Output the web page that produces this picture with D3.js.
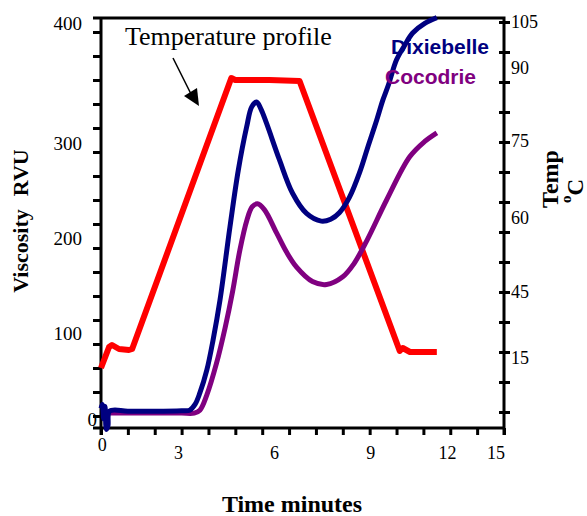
<!DOCTYPE html>
<html>
<head>
    <meta charset="utf-8" />
    <title>RVA viscosity profile</title>
    <style>
        body { margin: 0; background: #fff; }
        svg { display: block; }
    </style>
</head>
<body>
<script src="https://d3js.org/d3.v7.min.js"></script>
<script>
    // Dixiebelle pasting curve (minutes, RVU)
    var dixieTime = [0, 0.05, 0.1, 0.15, 0.2, 0.26, 0.32, 1, 2, 3, 3.3, 3.5, 3.68, 3.94, 4.17, 4.43, 4.8, 5.11, 5.42, 5.61, 5.79, 5.95, 6.16, 6.64, 7.13, 7.65, 8.2, 8.55, 8.88, 9.25, 9.63, 9.93, 10.26, 10.49, 10.7, 11.0, 11.3, 11.6, 12.05, 12.5];
    var dixieVisc = [8, 12, -3, 10, -14, -10, 5, 5, 5, 5.5, 6, 12, 24, 48, 79, 121, 197, 256, 301, 322, 327, 320, 305, 267, 232, 211, 203, 205, 212, 228, 254, 280, 308, 329, 345, 371, 386, 399, 409, 415];

    // Cocodrie pasting curve (minutes, RVU)
    var cocoTime = [0.3, 1, 2, 3, 3.47, 3.68, 3.94, 4.3, 4.62, 4.9, 5.17, 5.43, 5.63, 5.82, 6.08, 6.53, 6.9, 7.28, 7.87, 8.4, 9.0, 9.4, 9.9, 10.63, 11.49, 12.05, 12.5];
    var cocoVisc = [3, 3, 3, 3, 3, 6, 22, 55, 92, 130, 173, 204, 218, 221, 215, 191, 171, 155, 140, 137, 145, 158, 183, 225, 270, 286, 295];

    // temperature profile (minutes, oC)
    var tempTime = [0, 0.3, 0.41, 0.67, 1.04, 1.16, 4.85, 5.0, 5.15, 6.27, 7.39, 11.12, 11.23, 11.5, 12.5];
    var tempC = [18.5, 23.75, 24.25, 23.25, 23, 23.25, 91, 90.5, 90.5, 90.5, 90.25, 22.75, 23.5, 22.5, 22.5];

    // tick labels and where they sit on each scale
    var timeLabels = [0, 3, 6, 9, 12, 15];
    var timeLabelAt = [0.05, 2.88, 6.46, 10.04, 12.9, 14.7];
    var viscLabels = [0, 100, 200, 300, 400];
    var viscLabelAt = [-4, 86.5, 185.5, 284.5, 409.5];
    var tempLabels = [15, 45, 60, 75, 90, 105];
    var tempLabelAt = [21, 37.5, 56, 75.25, 93.5, 105];

    var width = 587;
    var height = 516;
    var frame = {"left": 101, "right": 504, "top": 18, "bottom": 428};

    var serif = "'Liberation Serif', 'Times New Roman', serif";
    var sans = "'Liberation Sans', Arial, sans-serif";

    var svg = d3.select("body").append("svg")
                .attr("width", width)
                .attr("height", height);

    var x = d3.scaleLinear().domain([0, 15]).range([101, 504]);
    var y = d3.scaleLinear().domain([0, 400]).range([416, 32]);
    var yT = d3.scaleLinear().domain([0, 105]).range([442, 22]);

    // ticks
    var bottomAxis = svg.append("g")
        .attr("transform", "translate(0," + frame.bottom + ")")
        .call(d3.axisBottom(x).tickValues(d3.range(0, 16)).tickSize(7).tickSizeOuter(0).tickFormat(""));
    var leftAxis = svg.append("g")
        .attr("transform", "translate(" + frame.left + ",0)")
        .call(d3.axisLeft(y).tickValues(d3.range(0, 401, 25)).tickSize(8).tickSizeOuter(0).tickFormat(""));
    var rightAxis = svg.append("g")
        .attr("transform", "translate(" + (frame.right - 5) + ",0)")
        .call(d3.axisRight(yT).tickValues(d3.range(7.5, 106, 7.5)).tickSize(11).tickSizeOuter(0).tickFormat(""));
    [bottomAxis, leftAxis, rightAxis].forEach(function(a) {
        a.select(".domain").remove();
        a.selectAll("line").attr("stroke", "#000").attr("stroke-width", 3);
    });

    // frame
    svg.append("path")
       .attr("d", "M" + (frame.left - 8) + "," + frame.top + "H" + frame.right + "V" + (frame.bottom + 7) +
                  "M" + (frame.left - 8) + "," + frame.bottom + "H" + frame.right +
                  "M" + frame.left + "," + frame.top + "V" + (frame.bottom + 7))
       .attr("fill", "none")
       .attr("stroke", "#000")
       .attr("stroke-width", 3);

    // tick labels
    svg.append("g").selectAll("text")
       .data(timeLabels)
       .enter().append("text")
       .attr("x", (d, i) => x(timeLabelAt[i]))
       .attr("y", (d, i) => i == 0 ? 451 : 459)
       .attr("text-anchor", "middle")
       .style("font-family", serif)
       .style("font-size", "18px")
       .text(d => d);

    svg.append("g").selectAll("text")
       .data(viscLabels)
       .enter().append("text")
       .attr("x", (d, i) => i == 0 ? 97 : 82)
       .attr("y", (d, i) => y(viscLabelAt[i]))
       .attr("dy", "0.35em")
       .attr("text-anchor", "end")
       .style("font-family", serif)
       .style("font-size", "19px")
       .text(d => d);

    svg.append("g").selectAll("text")
       .data(tempLabels)
       .enter().append("text")
       .attr("x", 511)
       .attr("y", (d, i) => yT(tempLabelAt[i]))
       .attr("dy", "0.35em")
       .attr("text-anchor", "start")
       .style("font-family", serif)
       .style("font-size", "18px")
       .text(d => d);

    // curves
    var viscLine = d3.line()
        .x(d => x(d[0]))
        .y(d => y(d[1]))
        .curve(d3.curveCatmullRom.alpha(0.5));
    var tempLine = d3.line()
        .x(d => x(d[0]))
        .y(d => yT(d[1]));

    svg.append("path")
       .datum(d3.zip(tempTime, tempC))
       .attr("d", tempLine)
       .attr("fill", "none")
       .attr("stroke", "#ff0000")
       .attr("stroke-width", 6)
       .attr("stroke-linejoin", "round");

    svg.append("path")
       .datum(d3.zip(cocoTime, cocoVisc))
       .attr("d", viscLine)
       .attr("fill", "none")
       .attr("stroke", "#800080")
       .attr("stroke-width", 5);

    svg.append("path")
       .datum(d3.zip(dixieTime, dixieVisc))
       .attr("d", viscLine)
       .attr("fill", "none")
       .attr("stroke", "#000080")
       .attr("stroke-width", 5)
       .attr("stroke-linejoin", "round");

    // legend text
    svg.append("text")
       .attr("x", 391).attr("y", 54)
       .style("font-family", sans).style("font-weight", "bold").style("font-size", "21px")
       .attr("fill", "#000080")
       .text("Dixiebelle");
    svg.append("text")
       .attr("x", 385).attr("y", 84)
       .style("font-family", sans).style("font-weight", "bold").style("font-size", "21px")
       .attr("fill", "#800080")
       .text("Cocodrie");

    // annotation
    svg.append("text")
       .attr("x", 125).attr("y", 45)
       .style("font-family", serif).style("font-size", "26px")
       .text("Temperature profile");
    svg.append("line")
       .attr("x1", 173).attr("y1", 58).attr("x2", 191).attr("y2", 94)
       .attr("stroke", "#000").attr("stroke-width", 1.5);
    svg.append("path")
       .attr("d", "M199,106L184,96L197,88Z")
       .attr("fill", "#000");

    // axis titles
    var yTitle = svg.append("text")
       .attr("transform", "translate(28,221) rotate(-90)")
       .attr("text-anchor", "middle")
       .style("font-family", serif).style("font-weight", "bold").style("font-size", "22px");
    yTitle.append("tspan").text("Viscosity");
    yTitle.append("tspan").attr("dx", 13).text("RVU");

    svg.append("text")
       .attr("x", 292).attr("y", 512)
       .attr("text-anchor", "middle")
       .style("font-family", serif).style("font-weight", "bold").style("font-size", "24px")
       .text("Time minutes");

    svg.append("text")
       .attr("transform", "translate(558,179) rotate(-90)")
       .attr("text-anchor", "middle")
       .style("font-family", serif).style("font-weight", "bold").style("font-size", "24px")
       .text("Temp");
    var unit = svg.append("text")
       .attr("transform", "translate(583,191) rotate(-90)")
       .attr("text-anchor", "middle")
       .style("font-family", serif).style("font-weight", "bold").style("font-size", "23px");
    unit.append("tspan").attr("dy", -12).style("font-size", "15px").text("o");
    unit.append("tspan").attr("dy", 12).text("C");
</script>
</body>
</html>
